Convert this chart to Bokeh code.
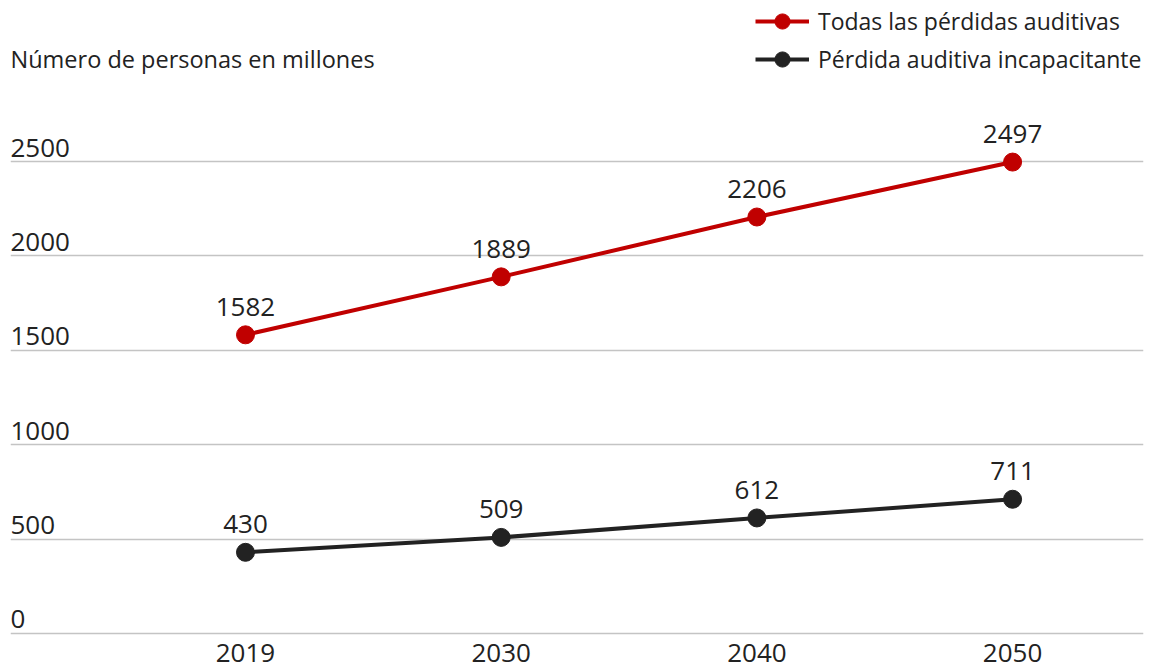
from bokeh.plotting import figure
from bokeh.models import Range1d, FixedTicker, Legend, LegendItem, ColumnDataSource
from bokeh.core.properties import value
from bokeh.embed import file_html
from bokeh.resources import INLINE

years = ["2019", "2030", "2040", "2050"]
all_loss = [1582, 1889, 2206, 2497]
disabling_loss = [430, 509, 612, 711]
y_ticks = [0, 500, 1000, 1500, 2000, 2500]
y_tick_labels = ["0", "500", "1000", "1500", "2000", "2500"]
series_names = ["Todas las pérdidas auditivas", "Pérdida auditiva incapacitante"]
y_title = "Número de personas en millones"

RED = "#c00000"
DARK = "#222222"
TEXT = "#222222"
FONT = "Open Sans"
FS = "26px"

xs = list(range(len(years)))

x_start, x_end = -0.919, 3.512
y_start, y_end = -201.3, 3352.8

p = figure(width=1152, height=671, output_backend="svg", toolbar_location=None,
           x_range=Range1d(x_start, x_end), y_range=Range1d(y_start, y_end),
           min_border_left=10, min_border_right=9, min_border_top=0, min_border_bottom=0)
p.axis.visible = False
p.outline_line_color = None
p.background_fill_color = "white"
p.border_fill_color = "white"
p.xgrid.visible = False
p.ygrid.ticker = FixedTicker(ticks=y_ticks)
p.ygrid.grid_line_color = "#c4c4c4"
p.ygrid.grid_line_width = 1.3

# y tick labels (above gridlines, left aligned)
p.text(x=[x_start] * len(y_ticks), y=y_ticks, text=y_tick_labels,
       text_font=value(FONT), text_font_size=FS, text_color=TEXT,
       text_align="left", text_baseline="middle", y_offset=-14)

# x tick labels
p.text(x=xs, y=[y_start] * len(xs), text=years,
       text_font=value(FONT), text_font_size=FS, text_color=TEXT,
       text_align="center", text_baseline="middle", y_offset=-19)

# y title
p.text(x=[x_start], y=[y_end], text=[y_title],
       text_font=value(FONT), text_font_size="23.5px", text_color=TEXT,
       text_align="left", text_baseline="middle", y_offset=58)

src1 = ColumnDataSource(dict(x=xs, y=all_loss, lab=[str(v) for v in all_loss]))
src2 = ColumnDataSource(dict(x=xs, y=disabling_loss, lab=[str(v) for v in disabling_loss]))

l1 = p.line("x", "y", source=src1, line_color=RED, line_width=4)
c1 = p.scatter("x", "y", source=src1, size=18, fill_color=RED, line_color=RED)
l2 = p.line("x", "y", source=src2, line_color=DARK, line_width=4)
c2 = p.scatter("x", "y", source=src2, size=18, fill_color=DARK, line_color=DARK)

for src in (src1, src2):
    p.text("x", "y", text="lab", source=src, text_font=value(FONT), text_font_size=FS,
           text_color=TEXT, text_align="center", text_baseline="middle", y_offset=-28)

legend = Legend(items=[LegendItem(label=series_names[0], renderers=[l1, c1]),
                       LegendItem(label=series_names[1], renderers=[l2, c2])],
                location=(745, 593), orientation="vertical",
                padding=0, margin=0, spacing=0, glyph_width=54, glyph_height=38,
                label_height=38, label_standoff=9,
                label_text_font=FONT, label_text_font_size="23px", label_text_color=TEXT,
                border_line_color=None, background_fill_alpha=0)
p.add_layout(legend, "center")

open("out.html", "w").write(file_html(p, INLINE))
